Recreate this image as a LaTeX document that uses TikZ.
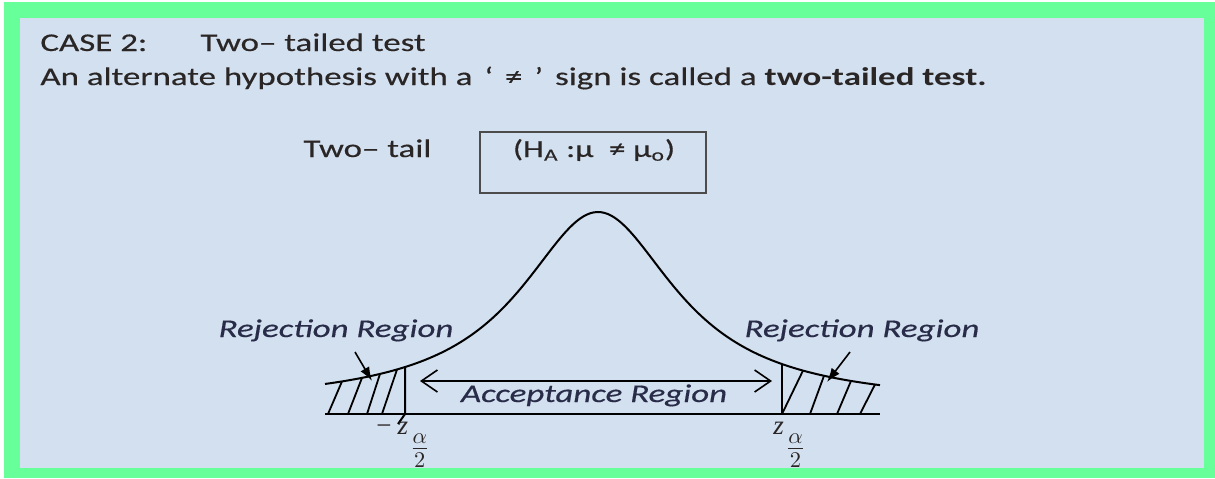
\documentclass[tikz,border=0pt]{standalone}
\usepackage{fix-cm}
\usepackage{fontspec}
\setmainfont[FakeStretch=1.37,
  UprightFeatures={FakeBold=0.4},
  ItalicFeatures={FakeBold=0.4}]{Carlito}
\newfontfamily\zfont{Liberation Serif}
\usepackage{tikz}
\usetikzlibrary{arrows.meta,calc}

\definecolor{framegreen}{RGB}{102,255,153}
\definecolor{panelblue}{RGB}{211,224,239}
\definecolor{inkgray}{RGB}{42,38,38}
\definecolor{labelink}{RGB}{40,44,72}

\begin{document}
\begin{tikzpicture}[x=0.5pt, y=-0.5pt,
    txt/.style={inkgray, font=\fontsize{12.75}{15}\selectfont, inner sep=0pt, anchor=base west},
    region/.style={labelink, font=\fontsize{12.75}{15}\selectfont\itshape, inner sep=0pt, anchor=base},
    zlabel/.style={inkgray, font=\zfont\fontsize{13.5}{16}\selectfont, inner sep=0pt, anchor=base west},
    hatch/.style={line width=0.9pt},
    pointer/.style={-{Latex[length=7pt,width=5pt]}, line width=0.8pt}]

    \useasboundingbox (0,0) rectangle (1215,478);

    % Frame and panel
    \fill[framegreen] (4,2) rectangle (1215,478);
    \fill[panelblue] (20,18) rectangle (1204,468);

    % Heading
    \node[txt] (case) at (40,51) {CASE 2:};
    \node[txt] (kind) at (200,51) {Two– tailed test};
    \node[txt] (rule) at (40,85) {An alternate hypothesis with a\hspace{2pt} ‘\hspace{6pt}≠\hspace{6pt}’\hspace{2pt} sign is called a \textbf{two-tailed test.}};

    % Hypothesis box
    \node[txt] (tail) at (303,157) {Two– tail};
    \draw[line width=0.8pt, black!70] (480,132) rectangle (706,193);
    \node[txt, anchor=base, font=\fontsize{12.25}{15}\selectfont] (hyp) at (594,157) {(H\textsubscript{A} :μ \ ≠ μ\textsubscript{o})};

    % Base line and curve: peak at 598
    \coordinate (bl) at (325,414);
    \coordinate (br) at (880,414);
    \draw[line width=1pt] (bl) -- (br);
    \draw[line width=1pt] plot[domain=325:880, samples=160] (\x, {405-193/(1+((\x-598)/95.5)^2)});

    % Critical values
    \coordinate (cl) at (405,{405-193/(1+((405-598)/95.5)^2)});
    \coordinate (cr) at (782,{405-193/(1+((782-598)/95.5)^2)});
    \draw[line width=1pt] (cl) -- (405,414) -- (398,424);
    \draw[line width=1pt] (cr) -- (782,414);

    % Hatching, left tail
    \foreach \a/\b in {328/342, 348/362, 367/380, 382/397}
        \draw[hatch] (\a,414) -- (\b,{405-193/(1+((\b-598)/95.5)^2)});
    % Hatching, right tail
    \foreach \a/\b in {782/803, 810/824, 837/851, 860/875}
        \draw[hatch] (\a,414) -- (\b,{405-193/(1+((\b-598)/95.5)^2)});

    % Rejection labels and pointers
    \node[region] (rejl) at (336,337) {Rejection Region};
    \node[region] (rejr) at (862,337) {Rejection Region};
    \coordinate (pl) at (355,352);
    \coordinate (pr) at (850,352);
    \draw[pointer] (pl) -- (372,381);
    \draw[pointer] (pr) -- (827,382);

    % Acceptance region
    \coordinate (al) at (420,381);
    \coordinate (ar) at (772,381);
    \draw[{Straight Barb[length=8pt,width=11pt]}-{Straight Barb[length=8pt,width=11pt]}, line width=0.8pt] (al) -- (ar);
    \node[region] (acc) at (594,402) {Acceptance Region};

    % z values
    \node[zlabel] (zl) at (376,434) {−\hspace{3pt}\textit{z}\hspace{1pt}\raisebox{-11pt}{\fontsize{16}{18}\selectfont$\frac{\alpha}{2}$}};
    \node[zlabel] (zr) at (773,434) {\textit{z}\hspace{1pt}\raisebox{-11pt}{\fontsize{16}{18}\selectfont$\frac{\alpha}{2}$}};

\end{tikzpicture}
\end{document}
